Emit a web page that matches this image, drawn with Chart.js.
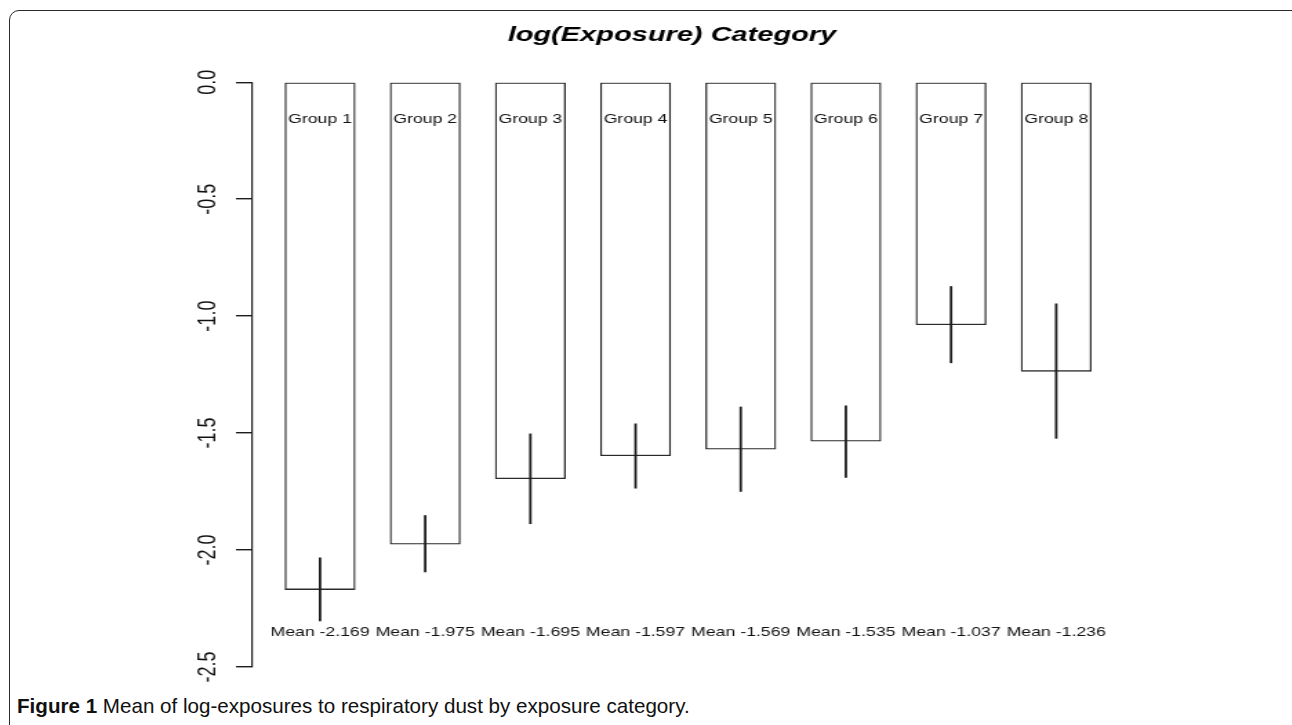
<!DOCTYPE html>
<html>
<head>
<meta charset="utf-8">
<script src="https://cdn.jsdelivr.net/npm/chart.js@4.4.1/dist/chart.umd.min.js"></script>
<style>
  html, body { margin:0; padding:0; background:#fff; overflow:hidden; }
  body { width:1292px; height:725px; position:relative; }
  #frame { position:absolute; left:9px; top:10px; width:1320px; height:760px; border:1.5px solid #2b2b2b; border-radius:10px; }
  /* the original figure is stretched sideways, so the canvas is too */
  #chart { position:absolute; left:0; top:0; transform:scaleX(1.38); transform-origin:0 0; }
  #caption { position:absolute; left:17px; top:694px; font:20.6px 'Liberation Sans', Arial, sans-serif; color:#111; white-space:nowrap; }
</style>
</head>
<body>
<div id="frame"></div>
<canvas id="chart" width="936" height="690"></canvas>
<div id="caption"><b>Figure 1</b> Mean of log-exposures to respiratory dust by exposure category.</div>
<script>
// data
const categories = ['Group 1','Group 2','Group 3','Group 4','Group 5','Group 6','Group 7','Group 8'];
const means   = [-2.169, -1.975, -1.695, -1.597, -1.569, -1.535, -1.037, -1.236];
const errHigh = [-2.032, -1.851, -1.502, -1.459, -1.387, -1.382, -0.872, -0.946];
const errLow  = [-2.304, -2.095, -1.889, -1.737, -1.751, -1.691, -1.201, -1.524];
const yTickValues = [0, -0.5, -1, -1.5, -2, -2.5];
const yTickLabels = ['0.0','-0.5','-1.0','-1.5','-2.0','-2.5'];
const titleText = 'log(Exposure) Category';

const ink = '#1c1c1c';
const fam = "'Liberation Sans', Arial, sans-serif";

// error bars + group / mean labels
const barExtras = {
  id: 'barExtras',
  afterDatasetsDraw(chart){
    const ctx = chart.ctx, y = chart.scales.y;
    const bars = chart.getDatasetMeta(0).data;
    const top = y.getPixelForValue(0);
    ctx.save();
    ctx.strokeStyle = ink;
    ctx.lineWidth = 1.8;
    bars.forEach((b,i)=>{
      ctx.beginPath();
      ctx.moveTo(b.x, y.getPixelForValue(errHigh[i]));
      ctx.lineTo(b.x, y.getPixelForValue(errLow[i]));
      ctx.stroke();
    });
    ctx.fillStyle = '#111';
    ctx.font = '12.8px ' + fam;
    ctx.textAlign = 'center';
    ctx.textBaseline = 'middle';
    bars.forEach((b,i)=>{
      ctx.fillText(categories[i], b.x, top + 37);
      ctx.fillText('Mean ' + means[i].toFixed(3), b.x, top + 550);
    });
    ctx.restore();
  }
};

new Chart(document.getElementById('chart'), {
  type: 'bar',
  data: {
    datasets: [{
      data: means.map((v,i)=>({x:i+1, y:v})),
      backgroundColor: '#fff',
      borderColor: '#2a2a2a',
      borderWidth: 1.3,
      borderSkipped: false,
      barThickness: 50.7
    }]
  },
  options: {
    responsive: false,
    animation: false,
    events: [],
    layout: { padding: { left:140.6, right:102.8, top:10, bottom:23 } },
    plugins: {
      legend: { display:false },
      tooltip: { enabled:false },
      title: {
        display: true, text: titleText, color: '#000',
        font: { family: fam, size: 21, weight: 'bold', style: 'italic' },
        padding: { top: 12.4, bottom: 34.6 }
      }
    },
    scales: {
      x: { type:'linear', min:0.353, max:8.89, offset:false, display:false },
      y: {
        min: -2.5, max: 0,
        afterBuildTicks: s => { s.ticks = yTickValues.map(v=>({value:v})); },
        afterFit: s => { s.width = 42; },
        ticks: {
          minRotation: 90, maxRotation: 90, crossAlign: 'center', padding: 4,
          color: '#111', font: { family: fam, size: 18 },
          callback: v => yTickLabels[yTickValues.indexOf(v)]
        },
        grid: { drawOnChartArea:false, drawTicks:true, tickLength:11.6, tickColor:ink, lineWidth:1.4 },
        border: { display:true, color:ink, width:1.2 }
      }
    }
  },
  plugins: [barExtras]
});
</script>
</body>
</html>
